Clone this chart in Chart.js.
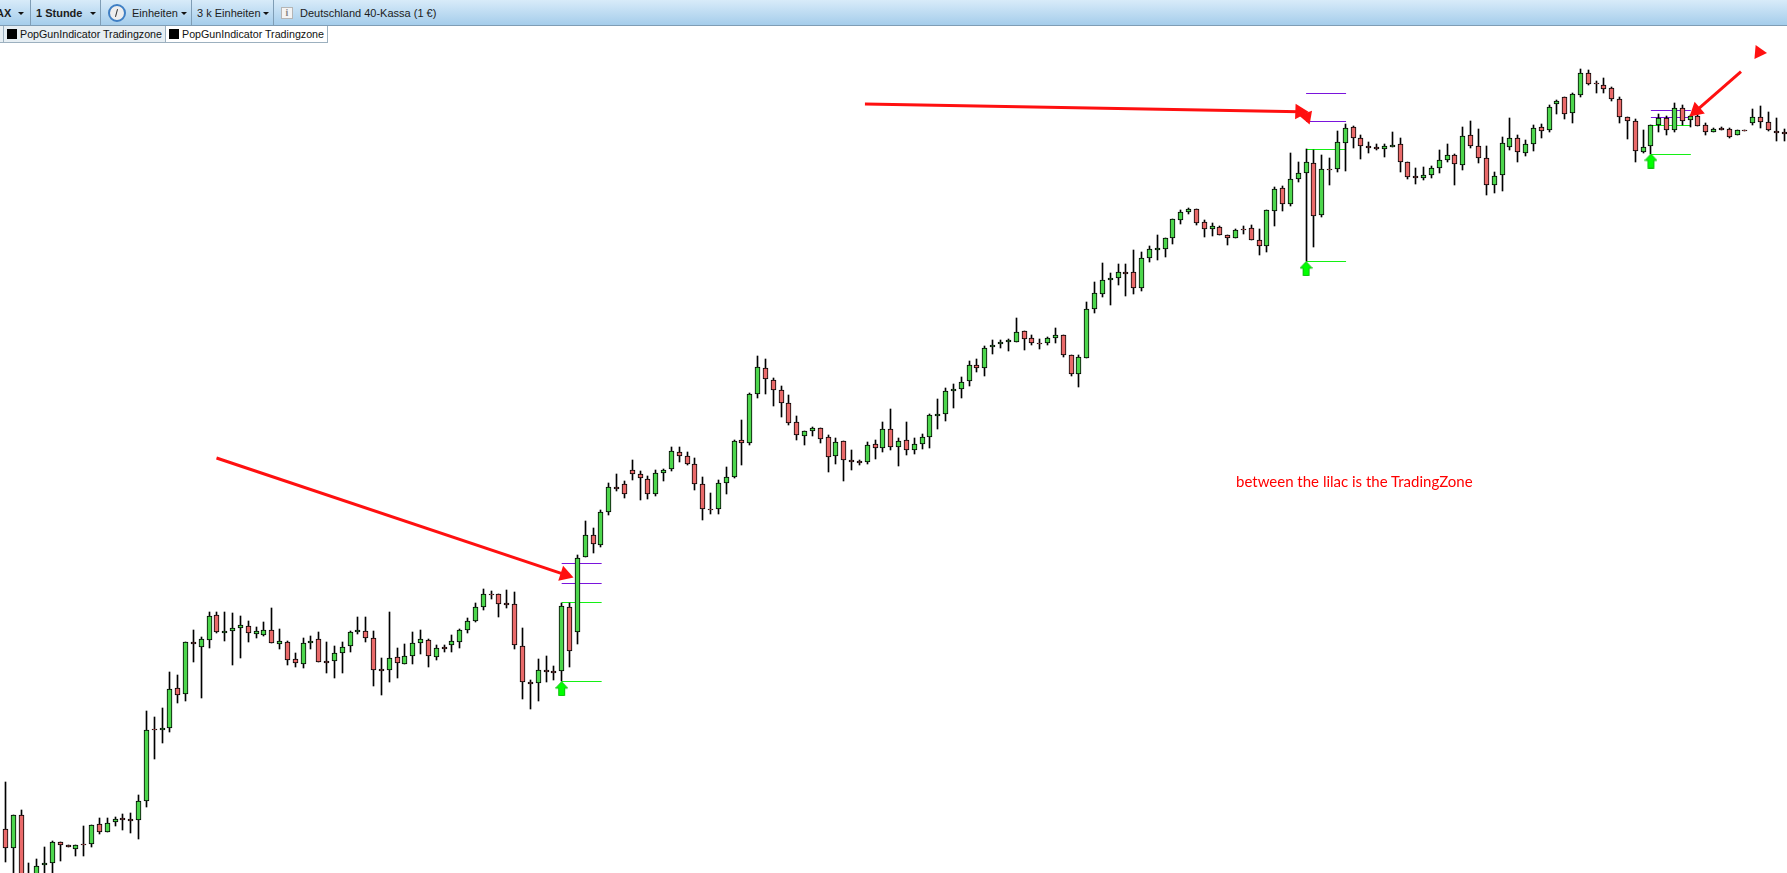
<!DOCTYPE html>
<html lang="de">
<head>
<meta charset="utf-8">
<title>Deutschland 40-Kassa</title>
<script src="https://cdn.jsdelivr.net/npm/chart.js@4/dist/chart.umd.min.js"></script>
<style>
  html, body { margin: 0; padding: 0; background: #fff; overflow: hidden; }
  #wrap { position: relative; width: 1787px; height: 873px; overflow: hidden; font-family: "Liberation Sans", Arial, sans-serif; }
  #chart { position: absolute; left: 0; top: 0; }
  #toolbar { position: absolute; left: 0; top: 0; width: 1787px; height: 26px; box-sizing: border-box; border-bottom: 1px solid #7f9db5;
    background: linear-gradient(#d8ebf9, #a5cdeb); font-size: 11px; color: #1c1c1c; }
  #toolbar .item { position: absolute; top: 0; height: 25px; line-height: 26px; white-space: nowrap; }
  #toolbar .sep { position: absolute; top: 0; width: 1px; height: 25px; background: #7f9db5; }
  #toolbar .caret { position: absolute; top: 12px; width: 0; height: 0; border-left: 3px solid transparent; border-right: 3px solid transparent; border-top: 3px solid #111; }
  #clock { position: absolute; left: 108px; top: 4px; width: 18px; height: 18px; box-sizing: border-box; border-radius: 50%; border: 2px solid #3f7fc4;
    background: #eeeeee; }
  #clock:after { content: ""; position: absolute; left: 6px; top: 3px; width: 1px; height: 8px; background: #333; transform: rotate(15deg); }
  #info { position: absolute; left: 281px; top: 7px; width: 12px; height: 12px; box-sizing: border-box; border: 1px solid #b5b5b5; background: #f4f4f4;
    font: bold 10px/10px "Liberation Serif", serif; color: #888; text-align: center; }
  .tab { position: absolute; top: 26px; height: 17px; box-sizing: border-box; border: 1px solid #9cb0bf; border-top: 0; border-left: 0; font-size: 10.7px; line-height: 16px; color: #111; white-space: nowrap; }
  .tab i { position: absolute; left: 3px; top: 3px; width: 10px; height: 10px; background: #000; }
  .tab span { position: absolute; left: 16px; top: 0; }
  #note { position: absolute; left: 1236px; top: 472px; font: 15px Lato, sans-serif; color: #f00; white-space: nowrap; }
</style>
</head>
<body>
<div id="wrap">
  <canvas id="chart" width="1787" height="873"></canvas>
  <div id="toolbar">
    <div class="item" style="left:-4px;font-weight:bold">AX</div><div class="caret" style="left:18px"></div>
    <div class="sep" style="left:30px"></div>
    <div class="item" style="left:36px;font-weight:bold">1 Stunde</div><div class="caret" style="left:90px"></div>
    <div class="sep" style="left:100px"></div>
    <div id="clock"></div>
    <div class="item" style="left:132px">Einheiten</div><div class="caret" style="left:181px"></div>
    <div class="sep" style="left:191px"></div>
    <div class="item" style="left:197px">3 k Einheiten</div><div class="caret" style="left:263px"></div>
    <div class="sep" style="left:273px"></div>
    <div id="info">i</div>
    <div class="item" style="left:300px">Deutschland 40-Kassa (1 €)</div>
  </div>
  <div class="tab" style="left:0;width:4px;background:#e6eef3"></div>
  <div class="tab" style="left:4px;width:162px;background:#e6eef3"><i></i><span>PopGunIndicator Tradingzone</span></div>
  <div class="tab" style="left:166px;width:162px;background:#fff"><i></i><span>PopGunIndicator Tradingzone</span></div>
  <div id="note">between the lilac is the TradingZone</div>
</div>
<script>
// --- 1. DATA (one value per hourly candle) ---
const opens = [
  131, 74, 173, -16, -11, 23, 29, 92, 83, 71,
  86, 86, 146, 122, 152, 164, 161, 158, 215, 431,
  430, 434, 554, 536, 692, 677, 698, 773, 719, 725,
  734, 740, 716, 713, 728, 686, 692, 641, 626, 689,
  701, 635, 635, 659, 680, 724, 725, 704, 611, 608,
  647, 626, 650, 689, 698, 647, 677, 683, 692, 728,
  755, 797, 837, 836, 809, 806, 680, 572, 569, 608,
  605, 605, 797, 724, 947, 1013, 983, 1082, 1157, 1166,
  1208, 1196, 1181, 1136, 1199, 1211, 1262, 1250, 1226, 1166,
  1092, 1091, 1169, 1187, 1298, 1289, 1436, 1514, 1478, 1448,
  1409, 1352, 1310, 1325, 1334, 1307, 1250, 1295, 1238, 1235,
  1232, 1286, 1274, 1331, 1277, 1298, 1268, 1286, 1307, 1370,
  1376, 1445, 1451, 1475, 1523, 1514, 1579, 1586, 1592, 1592,
  1625, 1604, 1590, 1589, 1604, 1613, 1553, 1496, 1544, 1691,
  1736, 1778, 1784, 1802, 1802, 1754, 1844, 1870, 1871, 1904,
  1958, 1982, 1991, 1952, 1931, 1937, 1913, 1904, 1932, 1934,
  1898, 1880, 1985, 2054, 2006, 2081, 2099, 2129, 1973, 2112,
  2111, 2189, 2237, 2204, 2180, 2177, 2171, 2179, 2186, 2132,
  2090, 2084, 2093, 2114, 2138, 2153, 2123, 2213, 2180, 2144,
  2063, 2093, 2177, 2204, 2159, 2186, 2237, 2228, 2306, 2327,
  2279, 2333, 2399, 2369, 2363, 2354, 2321, 2267, 2255, 2162,
  2180, 2243, 2264, 2228, 2294, 2258, 2270, 2243, 2222, 2234,
  2231, 2213, 2228, 2249, 2267, 2252, 2225, 2222,
];
const closes = [
  74, 173, -21, -6, 20, 29, 92, 83, 79, 83,
  84, 143, 122, 149, 161, 160, 157, 215, 428, 429,
  434, 551, 533, 692, 686, 701, 770, 722, 725, 734,
  743, 719, 725, 728, 689, 695, 638, 629, 689, 695,
  632, 631, 659, 677, 722, 728, 704, 608, 607, 644,
  629, 650, 689, 701, 650, 674, 673, 695, 728, 755,
  797, 836, 835, 806, 805, 683, 572, 568, 608, 602,
  601, 800, 665, 944, 1013, 986, 1082, 1157, 1153, 1136,
  1196, 1184, 1136, 1199, 1208, 1265, 1250, 1226, 1166, 1091,
  1090, 1169, 1187, 1295, 1289, 1436, 1517, 1481, 1448, 1409,
  1349, 1313, 1325, 1334, 1301, 1247, 1292, 1238, 1234, 1231,
  1283, 1274, 1331, 1277, 1295, 1268, 1286, 1307, 1373, 1376,
  1445, 1451, 1472, 1523, 1514, 1574, 1583, 1592, 1598, 1622,
  1601, 1589, 1588, 1604, 1613, 1553, 1496, 1547, 1691, 1739,
  1778, 1784, 1802, 1798, 1754, 1844, 1871, 1874, 1904, 1961,
  1982, 1991, 1949, 1931, 1940, 1913, 1904, 1928, 1930, 1898,
  1880, 1988, 2051, 2006, 2081, 2099, 2132, 1970, 2111, 2110,
  2192, 2234, 2204, 2180, 2176, 2173, 2180, 2183, 2132, 2087,
  2086, 2093, 2114, 2138, 2153, 2126, 2210, 2180, 2144, 2063,
  2090, 2189, 2204, 2162, 2186, 2234, 2225, 2297, 2315, 2276,
  2336, 2399, 2366, 2367, 2351, 2321, 2267, 2255, 2165, 2177,
  2243, 2264, 2228, 2294, 2255, 2270, 2240, 2222, 2231, 2230,
  2207, 2228, 2226, 2267, 2252, 2228, 2219, 2216,
];
const highs = [
  273, 173, 189, 29, 41, 78, 95, 92, 83, 84,
  140, 144, 164, 164, 167, 176, 179, 233, 485, 467,
  494, 602, 593, 692, 728, 707, 782, 782, 782, 779,
  770, 755, 737, 752, 794, 731, 695, 659, 704, 711,
  722, 692, 680, 692, 725, 767, 767, 725, 644, 782,
  674, 686, 722, 728, 701, 683, 683, 713, 731, 764,
  809, 851, 845, 836, 848, 842, 734, 578, 641, 650,
  620, 809, 809, 953, 1055, 1034, 1088, 1169, 1196, 1175,
  1238, 1205, 1190, 1208, 1211, 1277, 1277, 1262, 1244, 1187,
  1139, 1178, 1217, 1298, 1358, 1439, 1550, 1541, 1484, 1460,
  1433, 1370, 1325, 1337, 1334, 1313, 1304, 1295, 1268, 1238,
  1292, 1298, 1352, 1391, 1304, 1352, 1304, 1316, 1376, 1421,
  1454, 1466, 1487, 1535, 1541, 1580, 1598, 1598, 1601, 1664,
  1625, 1613, 1601, 1607, 1634, 1613, 1553, 1553, 1712, 1772,
  1829, 1799, 1826, 1826, 1868, 1862, 1880, 1913, 1904, 1961,
  1988, 1994, 1991, 1958, 1949, 1940, 1913, 1931, 1940, 1943,
  1931, 1988, 2057, 2060, 2159, 2132, 2171, 2169, 2153, 2144,
  2225, 2246, 2240, 2213, 2192, 2186, 2186, 2222, 2204, 2132,
  2114, 2117, 2120, 2168, 2186, 2156, 2237, 2255, 2231, 2180,
  2102, 2207, 2264, 2213, 2198, 2243, 2246, 2303, 2318, 2327,
  2339, 2411, 2408, 2375, 2384, 2357, 2327, 2267, 2261, 2228,
  2243, 2276, 2270, 2309, 2303, 2273, 2285, 2249, 2234, 2237,
  2234, 2228, 2228, 2291, 2300, 2282, 2264, 2231,
];
const lows = [
  34, -21, -41, -21, -21, -11, -11, 37, 77, 52,
  52, 79, 118, 122, 142, 129, 121, 103, 199, 343,
  391, 424, 511, 517, 634, 526, 676, 719, 697, 625,
  646, 694, 706, 710, 689, 673, 625, 619, 616, 673,
  632, 601, 586, 601, 662, 716, 694, 562, 535, 574,
  586, 626, 628, 658, 619, 640, 664, 664, 676, 721,
  752, 790, 823, 769, 796, 673, 523, 493, 517, 574,
  580, 575, 619, 688, 947, 961, 979, 1075, 1147, 1126,
  1179, 1120, 1123, 1132, 1177, 1207, 1234, 1223, 1150, 1060,
  1078, 1078, 1138, 1184, 1225, 1283, 1426, 1438, 1402, 1369,
  1343, 1300, 1285, 1312, 1291, 1204, 1228, 1177, 1210, 1225,
  1226, 1243, 1264, 1270, 1222, 1255, 1258, 1273, 1276, 1333,
  1357, 1396, 1426, 1462, 1504, 1492, 1558, 1576, 1567, 1592,
  1570, 1585, 1573, 1585, 1591, 1549, 1492, 1459, 1544, 1681,
  1727, 1705, 1765, 1732, 1738, 1747, 1834, 1840, 1849, 1888,
  1948, 1978, 1945, 1909, 1912, 1913, 1885, 1904, 1918, 1898,
  1855, 1864, 1942, 1987, 2002, 2074, 1835, 1879, 1967, 2065,
  2104, 2107, 2176, 2143, 2161, 2170, 2149, 2177, 2104, 2083,
  2068, 2080, 2086, 2101, 2132, 2065, 2110, 2176, 2131, 2035,
  2041, 2047, 2170, 2134, 2152, 2167, 2206, 2222, 2276, 2263,
  2251, 2327, 2363, 2341, 2339, 2315, 2249, 2203, 2134, 2159,
  2156, 2224, 2215, 2222, 2243, 2237, 2240, 2215, 2222, 2229,
  2206, 2213, 2225, 2243, 2234, 2227, 2197, 2197,
];

// trading zones: candle where each zone starts, and its four levels
const zoneCandles = [71, 166, 210];
const zoneLength = 5.1;
const lilacHigh = [929, 2339, 2288];
const lilacLow = [869, 2255, 2267];
const greenHigh = [812, 2171, 2243];
const greenLow = [574, 1835, 2156];
const signalLevels = [553, 1813, 2136];

// hand drawn red arrows: [from candle, from level, to candle, to level]
const redArrows = [
  [26.95, 1245, 71.42, 895],
  [109.7, 2307, 165.2, 2284],
  [221.5, 2404, 215.8, 2287],
];
const redArrowAngles = [108, 92, 229];
const looseHeads = [
  [166.1, 2268, 40],
  [223.8, 2462, 215],
];

const UP = "#4dd64d";
const DOWN = "#e96a6a";
const LILAC = "#7a14dc";
const LIME = "#14f014";
const RED = "#ff1010";

// --- 2. HELPERS ---
function signalArrow() {
  const c = document.createElement("canvas");
  c.width = 13;
  c.height = 15;
  const g = c.getContext("2d");
  g.beginPath();
  g.moveTo(6.5, 0.5);
  g.lineTo(12.5, 7);
  g.lineTo(9.5, 7);
  g.lineTo(9.5, 14.5);
  g.lineTo(3.5, 14.5);
  g.lineTo(3.5, 7);
  g.lineTo(0.5, 7);
  g.closePath();
  g.fillStyle = "#00ff00";
  g.fill();
  g.strokeStyle = "#10c010";
  g.stroke();
  return c;
}

function zoneLine(levels, color) {
  return levels.map((level, i) => ({
    type: "line",
    data: [
      { x: zoneCandles[i], y: level },
      { x: zoneCandles[i] + zoneLength, y: level },
    ],
    borderColor: color,
    borderWidth: 1,
    pointRadius: 0,
    snap: true,
    order: 3,
  }));
}

// keep candles on whole pixels, the way the platform paints them
const pixelSnap = {
  id: "pixelSnap",
  afterDatasetsUpdate(chart) {
    chart.data.datasets.forEach((ds, i) => {
      const meta = chart.getDatasetMeta(i);
      if (meta.type === "bar") {
        meta.data.forEach((el) => {
          el.x = Math.floor(el.x) + 0.5;
          el.y = Math.round(el.y);
          el.base = Math.round(el.base);
        });
      } else if (ds.snap) {
        meta.data.forEach((el) => {
          el.y = Math.floor(el.y) + 0.5;
        });
      }
    });
  },
};

// --- 3. CHART ---
const wicks = {
  type: "bar",
  data: highs.map((h, i) => ({ x: i, y: [lows[i], h] })),
  backgroundColor: "#000",
  borderWidth: 0,
  barThickness: 1,
  grouped: false,
  order: 2,
};
const bodies = {
  type: "bar",
  data: opens.map((o, i) => ({ x: i, y: [o, closes[i]] })),
  backgroundColor: opens.map((o, i) => (closes[i] >= o ? UP : DOWN)),
  borderColor: "#000",
  borderWidth: 1,
  borderSkipped: false,
  barThickness: 5,
  grouped: false,
  order: 1,
};
const signals = {
  type: "line",
  data: zoneCandles.map((c, i) => ({ x: c, y: signalLevels[i] })),
  showLine: false,
  pointStyle: signalArrow(),
  order: 0,
};
const arrows = redArrows.map((a, i) => ({
  type: "line",
  data: [
    { x: a[0], y: a[1] },
    { x: a[2], y: a[3] },
  ],
  borderColor: RED,
  borderWidth: 3,
  pointRadius: [0, 9],
  pointStyle: "triangle",
  pointBackgroundColor: RED,
  pointBorderWidth: 0,
  pointRotation: redArrowAngles[i],
  order: 0,
}));
const heads = looseHeads.map((h) => ({
  type: "line",
  data: [{ x: h[0], y: h[1] }],
  showLine: false,
  pointRadius: 8,
  pointStyle: "triangle",
  pointBackgroundColor: RED,
  pointBorderWidth: 0,
  pointRotation: h[2],
  order: 0,
}));

new Chart(document.getElementById("chart"), {
  type: "bar",
  data: {
    datasets: [
      ...zoneLine(lilacHigh, LILAC),
      ...zoneLine(lilacLow, LILAC),
      ...zoneLine(greenHigh, LIME),
      ...zoneLine(greenLow, LIME),
      wicks,
      bodies,
      signals,
      ...arrows,
      ...heads,
    ],
  },
  options: {
    responsive: false,
    animation: false,
    devicePixelRatio: 1,
    layout: { padding: 0, autoPadding: false },
    plugins: { legend: { display: false }, tooltip: { enabled: false } },
    scales: {
      x: { type: "linear", display: false, offset: false, min: -0.68, max: 227.37 },
      y: { type: "linear", display: false, min: 0, max: 2619 },
    },
  },
  plugins: [pixelSnap],
});
</script>
</body>
</html>
